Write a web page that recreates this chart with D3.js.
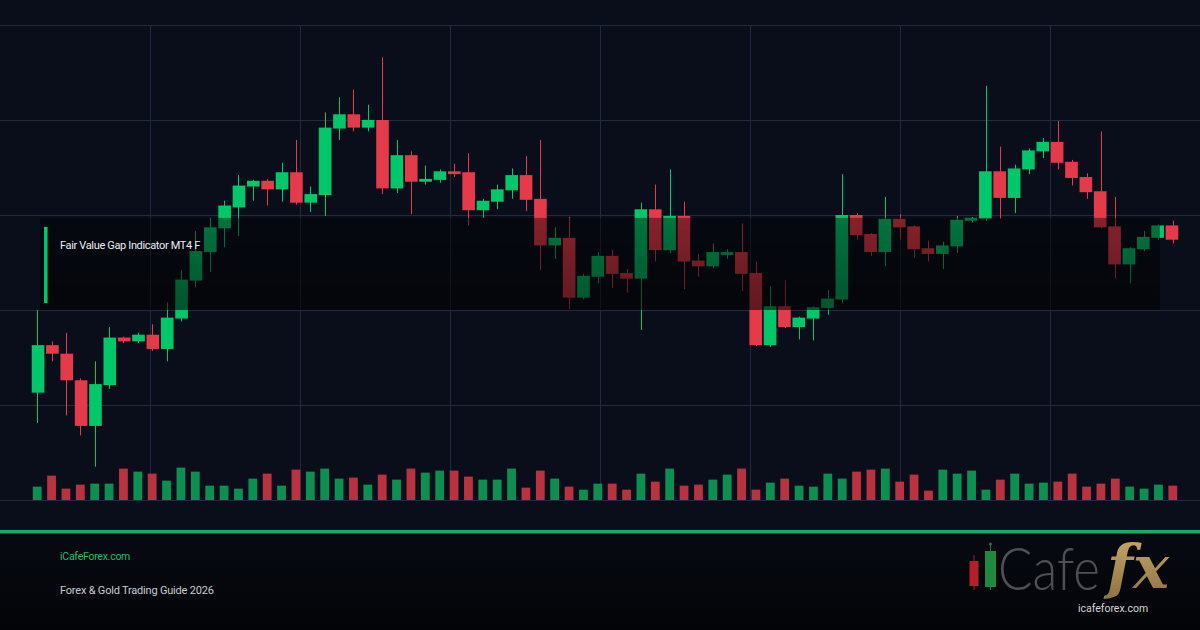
<!DOCTYPE html>
<html lang="en">
<head>
<meta charset="UTF-8" />
<title>Fair Value Gap Indicator MT4</title>
<script src="https://d3js.org/d3.v7.min.js"></script>
<style>
  html, body { margin: 0; padding: 0; background: #0a0e1a; }
  svg { display: block; font-family: Roboto, "Noto Sans", Arial, sans-serif; }
</style>
</head>
<body>
<svg width="1200" height="630"></svg>
<script>
// OHLC, one entry per candle
const opens  = [2001.3,2006.3,2005.4,2002.6,1997.8,2002.1,2007.1,2006.7,2007.4,2005.9,
                2009.1,2013.1,2016.1,2018.6,2020.8,2023.0,2023.6,2022.7,2024.5,2021.3,
                2022.1,2029.1,2030.6,2029.2,2030.0,2022.8,2026.3,2023.5,2023.7,2024.6,
                2024.5,2020.5,2021.4,2022.6,2024.2,2021.7,2016.8,2017.6,2011.3,2013.5,
                2015.7,2013.9,2013.3,2020.6,2016.3,2019.9,2015.2,2014.6,2015.8,2016.1,
                2013.9,2006.3,2010.4,2008.2,2009.1,2010.2,2011.1,2020.0,2018.0,2016.1,
                2019.6,2018.8,2016.5,2015.9,2016.7,2019.4,2019.6,2024.6,2021.8,2024.8,
                2026.7,2027.7,2025.6,2024.0,2022.5,2018.8,2014.8,2016.4,2017.6,2018.9];
const highs  = [2010.0,2006.7,2007.6,2002.8,2004.6,2008.2,2007.2,2007.6,2008.5,2010.8,
                2014.2,2018.3,2019.7,2021.5,2024.2,2023.7,2023.8,2025.5,2027.9,2023.0,
                2030.8,2032.4,2033.2,2031.6,2036.6,2027.9,2026.7,2025.2,2024.8,2025.4,
                2026.5,2021.7,2023.2,2024.9,2026.2,2027.9,2018.7,2019.8,2013.8,2016.1,
                2016.3,2014.3,2021.3,2023.2,2024.8,2021.4,2015.9,2017.0,2016.4,2019.1,
                2015.1,2012.5,2013.1,2009.3,2010.4,2012.1,2024.3,2020.2,2018.1,2021.9,
                2020.1,2018.9,2017.3,2017.2,2019.9,2019.8,2033.6,2027.2,2025.3,2027.0,
                2028.1,2029.9,2025.8,2024.4,2028.8,2021.9,2016.6,2018.3,2019.0,2019.4];
const lows   = [1998.1,2004.6,1998.9,1996.8,1993.5,2001.7,2006.5,2006.5,2005.7,2004.6,
                2008.8,2012.4,2014.0,2016.6,2017.8,2021.5,2021.0,2021.4,2021.1,2020.3,
                2019.9,2027.9,2028.8,2028.8,2022.2,2022.3,2020.1,2023.2,2023.4,2024.0,
                2018.9,2019.7,2020.6,2021.7,2020.4,2014.2,2015.4,2010.1,2011.1,2012.8,
                2012.3,2011.8,2007.9,2015.1,2016.0,2012.2,2013.5,2014.4,2015.4,2012.0,
                2006.2,2006.1,2008.1,2006.9,2006.8,2009.5,2010.7,2017.4,2015.7,2014.6,
                2017.4,2015.5,2015.1,2014.3,2016.0,2019.2,2019.4,2019.6,2020.2,2024.3,
                2026.0,2024.8,2023.1,2021.7,2018.6,2013.3,2012.8,2016.2,2017.4,2017.0];
const closes = [2006.3,2005.4,2002.6,1997.8,2002.2,2007.1,2006.7,2007.4,2005.9,2009.2,
                2013.2,2016.2,2018.7,2021.0,2023.1,2023.6,2022.7,2024.5,2021.3,2022.2,
                2029.2,2030.6,2029.2,2030.0,2022.8,2026.3,2023.5,2023.8,2024.6,2024.3,
                2020.5,2021.5,2022.7,2024.2,2021.6,2016.8,2017.6,2011.3,2013.6,2015.7,
                2013.8,2013.3,2020.6,2016.3,2019.9,2015.1,2014.6,2016.1,2016.1,2013.8,
                2006.3,2010.4,2008.2,2009.2,2010.3,2011.2,2020.0,2017.9,2016.1,2019.6,
                2018.7,2016.4,2015.9,2016.8,2019.5,2019.7,2024.6,2021.8,2024.9,2026.8,
                2027.7,2025.5,2023.9,2022.4,2018.7,2014.8,2016.5,2017.7,2018.9,2017.4];
const volumes = [40,73,34,46,49,49,94,85,79,58, 97,85,43,43,34,64,79,43,91,85,
                 94,64,67,46,76,61,94,82,88,88, 70,61,61,94,37,88,64,40,31,49,
                 49,31,79,55,94,43,46,61,76,94, 31,52,64,43,40,79,64,85,91,94,
                 55,76,28,91,79,88,31,61,79,49, 52,55,79,40,49,64,40,34,46,43];
const priceTicks = [1990, 2000, 2010, 2020, 2030, 2040];
const fvgLow = 2010.0, fvgHigh = 2019.7;
const fvgFrom = 0.2, fvgTo = 78.1;
const fvgLabel = "Fair Value Gap Indicator MT4 F";
const siteLabel = "iCafeForex.com";
const guideLabel = "Forex & Gold Trading Guide 2026";

const W = 1200, H = 630;
const svg = d3.select("svg");
const GREEN = "#00c86a", RED = "#e53a4a";
const VGREEN = "#0c8f51", VRED = "#b9323f";

const candles = opens.map((o, i) => ({ i, o, h: highs[i], l: lows[i], c: closes[i], v: volumes[i] }));

const x = d3.scaleBand().domain(d3.range(candles.length)).range([30, 1180]).padding(0.12);
const xi = d3.scaleLinear().domain([-0.5, candles.length - 0.5]).range([30, 1180]);
const y = d3.scaleLinear().domain([1990, 2040]).range([500, 25]);
const vy = d3.scaleLinear().domain([0, 100]).range([0, 33.4]);
const gx = d3.scaleLinear().domain([0, 8]).range([0, W]);

// backgrounds
const defs = svg.append("defs");
const fg = defs.append("linearGradient").attr("id", "footbg").attr("x1", 0).attr("y1", 0).attr("x2", 0).attr("y2", 1);
fg.append("stop").attr("offset", 0).attr("stop-color", "#070a12");
fg.append("stop").attr("offset", 1).attr("stop-color", "#030407");
const bg = defs.append("linearGradient").attr("id", "bandbg").attr("x1", 0).attr("y1", 0).attr("x2", 0).attr("y2", 1);
bg.append("stop").attr("offset", 0).attr("stop-color", "#000").attr("stop-opacity", 0.42);
bg.append("stop").attr("offset", 1).attr("stop-color", "#000").attr("stop-opacity", 0.58);
const gold = defs.append("linearGradient").attr("id", "gold").attr("x1", 0).attr("y1", 0).attr("x2", 0).attr("y2", 1);
gold.append("stop").attr("offset", 0).attr("stop-color", "#c9ab6a");
gold.append("stop").attr("offset", 1).attr("stop-color", "#8c7040");

svg.append("rect").attr("width", W).attr("height", H).attr("fill", "#0a0e1b");
svg.append("rect").attr("y", 533).attr("width", W).attr("height", H - 533).attr("fill", "url(#footbg)");

// grid
svg.append("g").selectAll("line").data(priceTicks).join("line")
  .attr("x1", 0).attr("x2", W).attr("y1", d => Math.round(y(d)) + 0.5).attr("y2", d => Math.round(y(d)) + 0.5)
  .attr("stroke", "#222a3d").attr("stroke-width", 1);
svg.append("g").selectAll("line").data(d3.range(1, 8)).join("line")
  .attr("x1", d => gx(d) + 0.5).attr("x2", d => gx(d) + 0.5).attr("y1", y(2040)).attr("y2", y(1990))
  .attr("stroke", "#222a3d").attr("stroke-width", 1);

// volume
svg.append("g").selectAll("rect").data(candles).join("rect")
  .attr("x", d => xi(d.i) - 4.4).attr("width", 8.8)
  .attr("y", d => y(1990) - vy(d.v)).attr("height", d => vy(d.v))
  .attr("fill", d => d.c >= d.o ? VGREEN : VRED);

// candles
const cg = svg.append("g");
cg.selectAll("line").data(candles).join("line")
  .attr("x1", d => Math.round(xi(d.i)) + 0.5).attr("x2", d => Math.round(xi(d.i)) + 0.5)
  .attr("y1", d => y(d.h)).attr("y2", d => y(d.l))
  .attr("stroke", d => d.c >= d.o ? GREEN : RED).attr("stroke-width", 1);
cg.selectAll("rect").data(candles).join("rect")
  .attr("x", d => x(d.i)).attr("width", x.bandwidth())
  .attr("y", d => y(Math.max(d.o, d.c)))
  .attr("height", d => Math.max(1.5, Math.abs(y(d.o) - y(d.c))))
  .attr("fill", d => d.c >= d.o ? GREEN : RED);

// fair value gap zone
svg.append("rect")
  .attr("x", xi(fvgFrom)).attr("width", xi(fvgTo) - xi(fvgFrom))
  .attr("y", y(fvgHigh)).attr("height", y(fvgLow) - y(fvgHigh))
  .attr("fill", "url(#bandbg)");
svg.append("rect")
  .attr("x", xi(fvgFrom) + 4).attr("width", 3.5)
  .attr("y", y(fvgHigh) + 9).attr("height", y(fvgLow) - y(fvgHigh) - 16)
  .attr("fill", GREEN);
svg.append("text")
  .attr("x", xi(fvgFrom) + 20).attr("y", y(fvgHigh) + 31)
  .attr("fill", "#eceef2").attr("font-size", 11).attr("letter-spacing", -0.35)
  .text(fvgLabel);

// footer
svg.append("rect").attr("x", 0).attr("y", 530).attr("width", W).attr("height", 3.5).attr("fill", "#10b068");
svg.append("text").attr("x", 60).attr("y", 560).attr("fill", "#1fbf6c")
  .attr("font-size", 10.5).attr("letter-spacing", -0.25).text(siteLabel);
svg.append("text").attr("x", 60).attr("y", 594).attr("fill", "#c9cdd4")
  .attr("font-size", 11).attr("letter-spacing", -0.2).text(guideLabel);

// logo
const logo = svg.append("g");
logo.append("line").attr("x1", 974).attr("x2", 974).attr("y1", 555).attr("y2", 590).attr("stroke", "#9a2029").attr("stroke-width", 1);
logo.append("rect").attr("x", 969.5).attr("y", 561).attr("width", 9).attr("height", 25).attr("fill", "#b3202b");
logo.append("line").attr("x1", 990.5).attr("x2", 990.5).attr("y1", 543).attr("y2", 590).attr("stroke", "#1d7a3b").attr("stroke-width", 1);
logo.append("circle").attr("cx", 990.5).attr("cy", 544).attr("r", 1.6).attr("fill", "#2a6a3b");
logo.append("rect").attr("x", 985).attr("y", 551).attr("width", 11).attr("height", 36).attr("fill", "#1f8a3f");
logo.append("text").attr("x", 998).attr("y", 590).attr("fill", "#4e5054")
  .attr("font-family", "Lato, 'Open Sans', sans-serif").attr("font-weight", 300)
  .attr("font-size", 60).attr("textLength", 102).attr("lengthAdjust", "spacingAndGlyphs").text("Cafe");
logo.append("text").attr("x", 1107).attr("y", 588).attr("fill", "url(#gold)")
  .attr("font-family", "'DejaVu Serif', 'Liberation Serif', serif").attr("font-style", "italic").attr("font-weight", 700)
  .attr("font-size", 60).attr("textLength", 62).attr("lengthAdjust", "spacingAndGlyphs").text("fx");
logo.append("text").attr("x", 1113).attr("y", 612).attr("text-anchor", "middle").attr("fill", "#d6d6d6")
  .attr("font-size", 10.5).text("icafeforex.com");
</script>
</body>
</html>
